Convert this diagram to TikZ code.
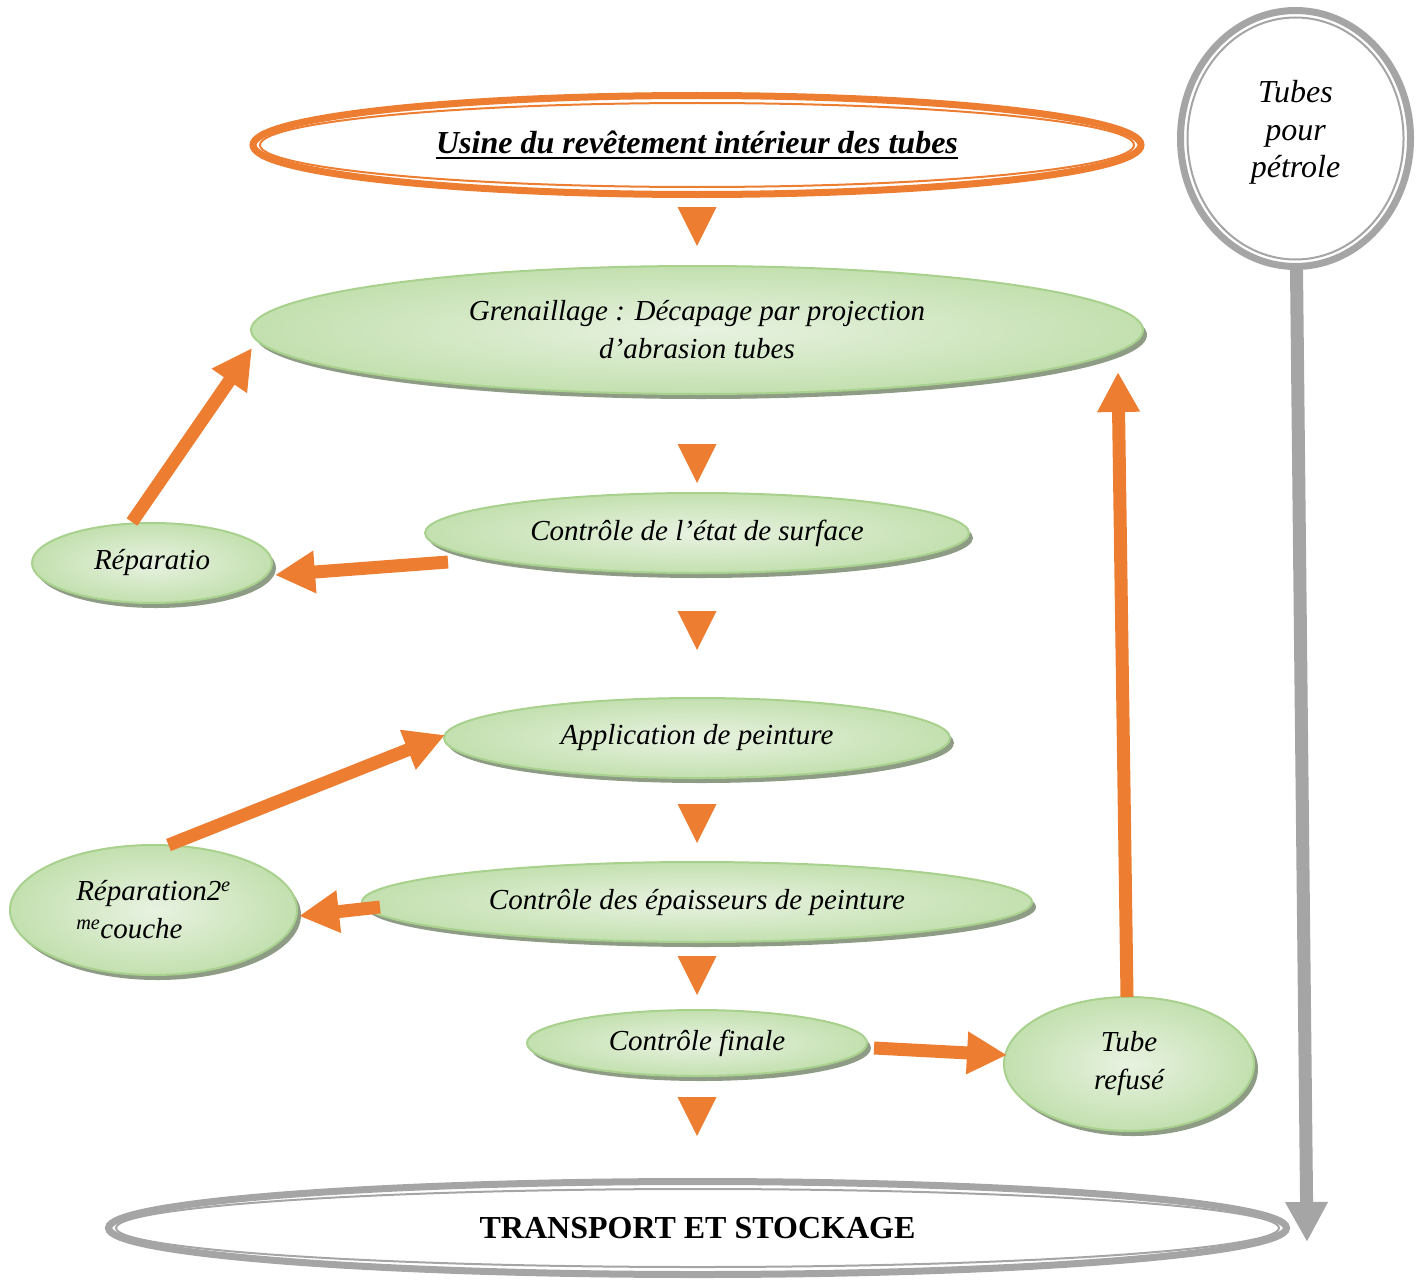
\documentclass[tikz,border=0pt]{standalone}
\usepackage{fontspec}
\setmainfont{Liberation Serif}
\usetikzlibrary{shapes.geometric,shadows,arrows.meta,calc}
\definecolor{org}{HTML}{ED7D31}
\definecolor{gry}{HTML}{A5A5A5}
\definecolor{gbord}{HTML}{A9D18E}
\definecolor{ginner}{HTML}{E8F2E1}
\definecolor{gouter}{HTML}{C3E0AF}
\definecolor{gshadow}{HTML}{8E9C86}
\newcommand\thickul[1]{\begingroup\setbox0\hbox{#1}\rlap{\rule[-5pt]{\wd0}{2.2pt}}\box0\endgroup}
\begin{document}
\begin{tikzpicture}[x=1pt,y=-1pt,
  gnode/.style={ellipse, draw=gbord, line width=2pt, inner color=ginner, outer color=gouter,
    inner sep=0pt, align=center, font=\fontsize{29}{38}\selectfont\itshape,
    drop shadow={shadow xshift=4pt, shadow yshift=-5pt, fill=gshadow, opacity=1}},
  dblnode/.style={ellipse, draw=#1, line width=7pt, inner sep=0pt, align=center},
  orarrow/.style={draw=org, line width=13pt, -{Triangle[length=40pt,width=40pt]}},
  grarrow/.style={draw=gry, line width=13pt, -{Triangle[length=40pt,width=40pt]}},
  downtri/.pic={\fill[org] (-19.5,0) -- (19.5,0) -- (0,39) -- cycle;}
]
\useasboundingbox (0,0) rectangle (1423,1279);

% title
\node[dblnode=org, minimum width=888pt, minimum height=99pt,
  font=\fontsize{32}{38}\selectfont\bfseries\itshape] (title) at (697,145)
  {\thickul{Usine du revêtement intérieur des tubes}};
\draw[org, line width=2pt] (title.center) ellipse [x radius=437, y radius=42];

% transport
\node[dblnode=gry, minimum width=1178pt, minimum height=93pt,
  font=\fontsize{32}{38}\selectfont\bfseries] (trans) at (697.5,1228)
  {TRANSPORT ET STOCKAGE};
\draw[gry, line width=2pt] (trans.center) ellipse [x radius=581.5, y radius=39];

% tubes pour petrole
\node[dblnode=gry, minimum width=230pt, minimum height=256pt] (circ) at (1295.5,138.5) {};
\draw[gry, line width=2pt] (circ.center) ellipse [x radius=108, y radius=121];
\node[align=center, inner sep=0pt, font=\fontsize{32}{37.5}\selectfont\itshape] (circtext)
  at ($(circ.center)+(0,-6)$) {Tubes\\pour\\pétrole};

% green nodes
\node[gnode, minimum width=892pt, minimum height=128pt] (gren) at (697,330)
  {Grenaillage : Décapage par projection\\ d’abrasion tubes};
\node[gnode, minimum width=544pt, minimum height=80pt] (ctrl1) at (697,533)
  {Contrôle de l’état de surface};
\node[gnode, minimum width=240pt, minimum height=80pt] (rep1) at (152,563)
  {Réparatio};
\node[gnode, minimum width=506pt, minimum height=80pt] (app) at (697,738)
  {Application de peinture};
\node[gnode, minimum width=287pt, minimum height=130pt, align=left] (rep2) at (153.5,910)
  {Réparation2\textsuperscript{e}\\\textsuperscript{me}couche};
\node[gnode, minimum width=670pt, minimum height=80pt] (ctrl2) at (697,902)
  {Contrôle des épaisseurs de peinture};
\node[gnode, minimum width=340pt, minimum height=66pt] (fin) at (697,1043)
  {Contrôle finale};
\node[gnode, minimum width=250pt, minimum height=134pt] (tube) at (1129,1064)
  {Tube\\refusé};

% down triangles
\pic at (697,207) {downtri};
\pic at (697,444) {downtri};
\pic at (697,611) {downtri};
\pic at (697,804) {downtri};
\pic at (697,956) {downtri};
\pic at (697,1097) {downtri};

% orange arrows
\draw[orarrow] ($(rep1.north)+(-20,0)$) -- ($(gren.west)+(2,18)$);
\draw[orarrow] ($(ctrl1.west)+(24,29)$) -- ($(rep1.east)+(2,12)$);
\draw[orarrow] ($(rep2.north)+(15,1)$) -- ($(app.west)+(2,-3)$);
\draw[orarrow] ($(ctrl2.west)+(19,5)$) -- ($(rep2.east)+(1,6)$);
\draw[orarrow] ($(fin.east)+(6,5)$) -- ($(tube.west)+(4,-9)$);
\draw[orarrow] ($(tube.north)+(-2,1)$) -- ($(gren.south)+(421,-23)$);

% gray arrow
\draw[grarrow] ($(circ.south)+(1,0)$) -- ($(trans.east)+(17,14)$);
\end{tikzpicture}
\end{document}
